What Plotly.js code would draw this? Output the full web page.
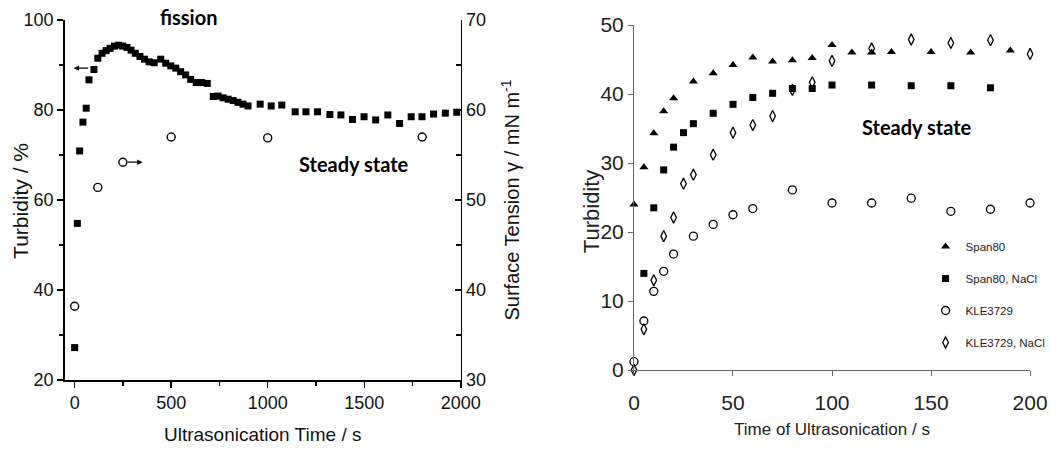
<!DOCTYPE html>
<html><head><meta charset="utf-8">
<script src="https://cdn.plot.ly/plotly-3.0.1.min.js"></script>
<style>html,body{margin:0;padding:0;background:#fff}</style>
</head><body><div id="chart" style="width:1051px;height:450px"></div>
<script>
// ---- Left panel: turbidity (left axis) and surface tension (right axis) vs ultrasonication time
const fissionTime = [0, 14, 26, 43, 60, 74, 100, 120, 142, 163, 184, 206, 228, 249, 271, 292, 314, 338, 362, 386, 412, 446, 472, 498, 524, 549, 575, 601, 630, 658, 687, 718, 743, 769, 795, 821, 846, 872, 898, 961, 1018, 1073, 1142, 1198, 1258, 1322, 1379, 1439, 1499, 1559, 1622, 1683, 1743, 1799, 1859, 1920, 1979];
const turbidityPct = [27.2, 54.8, 70.9, 77.3, 80.4, 86.7, 89.0, 91.5, 92.6, 93.2, 93.7, 94.2, 94.4, 94.2, 93.9, 93.3, 92.6, 91.9, 91.3, 90.7, 90.5, 91.3, 90.4, 89.8, 89.3, 88.5, 87.8, 86.8, 86.1, 86.1, 85.9, 83.0, 83.1, 82.7, 82.4, 82.1, 81.7, 81.3, 80.9, 81.3, 80.9, 81.1, 79.6, 79.6, 79.6, 79.0, 78.9, 77.9, 78.5, 77.8, 78.9, 77.0, 78.5, 78.5, 79.1, 79.3, 79.5];
const tensionTime = [0, 120, 250, 500, 1000, 1800];
const surfaceTension = [38.2, 51.4, 54.2, 57.0, 56.9, 57.0];

// ---- Right panel: turbidity vs time of ultrasonication
const span80Time = [0, 5, 10, 15, 20, 30, 40, 50, 60, 70, 80, 90, 100, 110, 120, 130, 150, 170, 190];
const span80Turb = [24.0, 29.4, 34.3, 37.5, 39.4, 41.8, 43.0, 44.2, 45.3, 44.7, 44.9, 45.2, 47.1, 46.0, 46.0, 46.1, 46.1, 46.0, 46.3];
const span80NaClTime = [5, 10, 15, 20, 25, 30, 40, 50, 60, 70, 80, 90, 100, 120, 140, 160, 180];
const span80NaClTurb = [14.0, 23.5, 29.0, 32.3, 34.4, 35.7, 37.2, 38.5, 39.5, 40.1, 40.8, 40.8, 41.3, 41.3, 41.2, 41.2, 40.9];
const kleTime = [0, 5, 10, 15, 20, 30, 40, 50, 60, 80, 100, 120, 140, 160, 180, 200];
const kleTurb = [1.2, 7.1, 11.4, 14.3, 16.8, 19.4, 21.1, 22.5, 23.4, 26.1, 24.2, 24.2, 24.9, 23.0, 23.3, 24.2];
const kleNaClTime = [0, 5, 10, 15, 20, 25, 30, 40, 50, 60, 70, 80, 90, 100, 120, 140, 160, 180, 200];
const kleNaClTurb = [0, 5.9, 13.0, 19.4, 22.1, 27.0, 28.3, 31.2, 34.4, 35.5, 36.8, 40.6, 41.7, 44.8, 46.6, 47.9, 47.4, 47.8, 45.8];
const seriesNames = ['Span80', 'Span80, NaCl', 'KLE3729', 'KLE3729, NaCl'];

const W = 1051, H = 450;
const fx = p => p / W, fy = p => 1 - p / H;
const sans = '"Liberation Sans", Arial, sans-serif';
const bold = 'Lato, "Open Sans", sans-serif';

const traces = [
  {x: fissionTime, y: turbidityPct, xaxis: 'x', yaxis: 'y', mode: 'markers', showlegend: false, cliponaxis: false,
   marker: {symbol: 'square', size: 7, color: '#000'}},
  {x: tensionTime, y: surfaceTension, xaxis: 'x', yaxis: 'y3', mode: 'markers', showlegend: false, cliponaxis: false,
   marker: {symbol: 'circle-open', size: 8, color: '#000', line: {width: 1.4, color: '#000'}}},
  {x: span80Time, y: span80Turb, xaxis: 'x2', yaxis: 'y2', mode: 'markers', name: seriesNames[0], legendgroup: 'a', cliponaxis: false,
   marker: {symbol: 'triangle-up', size: 8, color: '#000'}},
  {x: span80NaClTime, y: span80NaClTurb, xaxis: 'x2', yaxis: 'y2', mode: 'markers', name: seriesNames[1], legendgroup: 'b', cliponaxis: false,
   marker: {symbol: 'square', size: 7, color: '#000'}},
  {x: kleTime, y: kleTurb, xaxis: 'x2', yaxis: 'y2', mode: 'markers', name: seriesNames[2], legendgroup: 'c', cliponaxis: false,
   marker: {symbol: 'circle-open', size: 8, color: '#000', line: {width: 1.3, color: '#000'}}},
  {x: kleNaClTime, y: kleNaClTurb, xaxis: 'x2', yaxis: 'y2', mode: 'markers', name: seriesNames[3], legendgroup: 'd', cliponaxis: false,
   marker: {symbol: 'diamond-tall-open', size: 8, color: '#000', line: {width: 1.3, color: '#000'}}}
];

const leftAxisCommon = {showline: true, linecolor: '#000', linewidth: 1.5, showgrid: false, zeroline: false,
  tickcolor: '#000', tickwidth: 1.5, tickfont: {family: sans, size: 18, color: '#111'}};
const rightAxisCommon = {showline: true, linecolor: '#666', linewidth: 1, showgrid: false, zeroline: false,
  ticks: 'outside', ticklen: 5, tickcolor: '#666', tickwidth: 1, tickfont: {family: sans, size: 21, color: '#222'},
  ticklabeloverflow: 'allow'};

const layout = {
  width: W, height: H, autosize: false,
  margin: {l: 0, r: 0, t: 0, b: 0},
  paper_bgcolor: '#fff', plot_bgcolor: 'rgba(0,0,0,0)',
  xaxis: Object.assign({}, leftAxisCommon, {
    domain: [fx(65), fx(463)], anchor: 'y', range: [-51.5, 2000], tick0: 0, dtick: 500,
    ticks: 'outside', ticklen: 6, minor: {dtick: 250, ticks: 'outside', ticklen: 4, tickwidth: 1.5, tickcolor: '#000'},
    title: {text: 'Ultrasonication Time / s', font: {family: sans, size: 19, color: '#111'}, standoff: 15}
  }),
  yaxis: Object.assign({}, leftAxisCommon, {
    domain: [fy(380), fy(20)], anchor: 'x', range: [20, 100], tick0: 20, dtick: 20,
    ticks: 'outside', ticklen: 6, minor: {dtick: 10, ticks: 'outside', ticklen: 4, tickwidth: 1.5, tickcolor: '#000'}
  }),
  yaxis3: Object.assign({}, leftAxisCommon, {
    overlaying: 'y', side: 'right', anchor: 'x', range: [30, 70], tick0: 30, dtick: 10,
    ticks: 'inside', ticklen: 6, minor: {dtick: 5, ticks: 'inside', ticklen: 5, tickwidth: 1.5, tickcolor: '#000'},
    title: {text: 'Surface Tension γ / mN m<sup>-1</sup>', font: {family: sans, size: 20, color: '#111'}, standoff: 20}
  }),
  xaxis2: Object.assign({}, rightAxisCommon, {
    domain: [fx(637), fx(1035)], anchor: 'y2', range: [0, 200], tick0: 0, dtick: 50, ticklabelstandoff: 9,
    title: {text: 'Time of Ultrasonication / s', font: {family: sans, size: 17, color: '#222'}, standoff: 9}
  }),
  yaxis2: Object.assign({}, rightAxisCommon, {
    domain: [fy(370), fy(25)], anchor: 'x2', range: [0, 50], tick0: 0, dtick: 10
  }),
  legend: {x: fx(930), y: fy(232), xanchor: 'left', yanchor: 'top', bgcolor: 'rgba(0,0,0,0)',
    font: {family: sans, size: 11.5, color: '#222'}, tracegroupgap: 13, traceorder: 'grouped', itemwidth: 30},
  annotations: [
    // axis titles placed as rotated text (they sit between tick labels in the reference)
    {xref: 'paper', yref: 'paper', x: fx(20), y: fy(201), xanchor: 'center', yanchor: 'middle', textangle: -90,
     text: 'Turbidity / %', showarrow: false, font: {family: sans, size: 21, color: '#111'}},
    {xref: 'paper', yref: 'paper', x: fx(594), y: fy(211), xanchor: 'center', yanchor: 'middle', textangle: -90,
     text: 'Turbidity', showarrow: false, font: {family: sans, size: 22, color: '#222'}},
    {xref: 'paper', yref: 'paper', x: fx(189), y: fy(17), xanchor: 'center', yanchor: 'middle', text: '<b>fission</b>', showarrow: false,
     font: {family: bold, size: 20, color: '#000'}},
    {xref: 'paper', yref: 'paper', x: fx(356), y: fy(164), xanchor: 'center', yanchor: 'middle', text: '<b>Steady state</b>', showarrow: false,
     font: {family: bold, size: 20, color: '#000'}},
    {xref: 'paper', yref: 'paper', x: fx(921), y: fy(127), xanchor: 'center', yanchor: 'middle', text: '<b>Steady state</b>', showarrow: false,
     font: {family: bold, size: 20, color: '#000'}},
    {xref: 'x', yref: 'y', x: -5, y: 89.3, axref: 'x', ayref: 'y', ax: 78, ay: 89.3, text: '', showarrow: true,
     arrowhead: 2, arrowsize: 0.9, arrowwidth: 1.2, arrowcolor: '#000', standoff: 0},
    {xref: 'x', yref: 'y', x: 352, y: 68.4, axref: 'x', ayref: 'y', ax: 268, ay: 68.4, text: '', showarrow: true,
     arrowhead: 2, arrowsize: 0.9, arrowwidth: 1.2, arrowcolor: '#000', standoff: 0}
  ]
};

Plotly.newPlot('chart', traces, layout, {displayModeBar: false, staticPlot: true});
</script>
</body></html>
